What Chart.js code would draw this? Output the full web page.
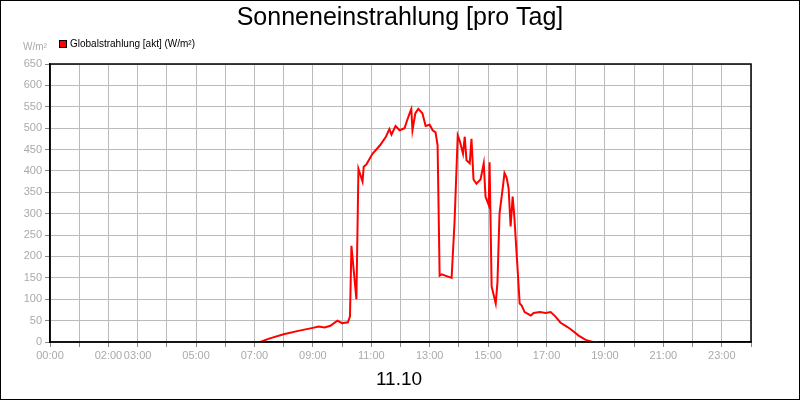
<!DOCTYPE html>
<html><head><meta charset="utf-8">
<script src="https://cdn.jsdelivr.net/npm/chart.js@4"></script>
<style>html,body{margin:0;padding:0;background:#fff}#w{width:800px;height:400px;position:relative;box-sizing:border-box;border:1px solid #000}canvas{position:absolute;left:-1px;top:-1px}</style>
</head><body><div id="w"><canvas id="c" width="800" height="400"></canvas></div>
<script>
const hours = [0,7.2,7.5,8,8.5,9,9.2,9.4,9.6,9.84,10.0,10.2,10.27,10.32,10.49,10.56,10.7,10.74,10.83,11.04,11.3,11.5,11.62,11.69,11.83,11.97,12.14,12.21,12.34,12.37,12.41,12.51,12.61,12.75,12.86,13.0,13.1,13.2,13.27,13.34,13.41,13.75,13.85,13.96,14.03,14.14,14.2,14.26,14.37,14.43,14.5,14.6,14.74,14.85,14.91,15.02,15.05,15.12,15.26,15.32,15.39,15.5,15.56,15.63,15.7,15.77,15.84,15.9,16.0,16.08,16.15,16.25,16.46,16.56,16.77,16.97,17.14,17.3,17.48,17.72,17.86,18.1,18.34,18.58,18.8,24];
const values = [0,0,8,18,26,33,36,34,38,50,44,46,60,225,100,405,375,410,415,440,460,480,498,485,505,495,500,515,540,545,495,535,545,535,505,508,495,490,460,155,158,150,280,483,470,440,480,425,418,475,380,370,380,418,340,320,420,130,90,140,300,360,395,385,360,270,340,290,180,90,85,70,62,68,70,68,70,60,45,35,28,15,5,0,0];
const xLabels = {0:'00:00',2:'02:00',3:'03:00',5:'05:00',7:'07:00',9:'09:00',11:'11:00',13:'13:00',15:'15:00',17:'17:00',19:'19:00',21:'21:00',23:'23:00'};
const seriesName = 'Globalstrahlung [akt] (W/m²)';
const titleText = 'Sonneneinstrahlung [pro Tag]';
const dateText = '11.10';
const unitText = 'W/m²';

const deco = {id:'deco', afterDraw(ch){
  const c=ch.ctx, a=ch.chartArea;
  c.save();
  c.strokeStyle='#000'; c.lineWidth=1.5;
  c.strokeRect(a.left, a.top, a.right-a.left, a.bottom-a.top);
  c.fillStyle='#000'; c.textAlign='center'; c.textBaseline='middle';
  c.font='25px Arial, "Liberation Sans"'; c.fillText(titleText, 400, 18);
  c.font='19px Arial, "Liberation Sans"'; c.fillText(dateText, 399, 380);
  c.textAlign='left'; c.font='10px Arial, "Liberation Sans"';
  c.fillStyle='#f00'; c.fillRect(59,40,8,8); c.strokeStyle='#000'; c.lineWidth=1; c.strokeRect(59.5,40.5,7,7);
  c.fillStyle='#000'; c.fillText(seriesName, 70, 44);
  c.fillStyle='#aaa'; c.fillText(unitText, 23, 47);
  c.restore();
}};

new Chart(document.getElementById('c'), {
  type:'line',
  data:{datasets:[{label:seriesName, data:hours.map((h,i)=>({x:h,y:values[i]})), borderColor:'#f00', borderWidth:2, pointRadius:0, tension:0, fill:false}]},
  options:{responsive:false, animation:false, devicePixelRatio:1,
    layout:{padding:{left:0,right:49,top:64,bottom:0}},
    plugins:{legend:{display:false}, title:{display:false}, tooltip:{enabled:false}},
    scales:{
      x:{type:'linear', min:0, max:24, afterFit(s){s.height=58;},
        ticks:{stepSize:1, autoSkip:false, maxRotation:0, color:'#aaa', font:{size:11, family:'Arial, "Liberation Sans"'}, padding:2, callback:v=>xLabels[v]||''},
        grid:{color:'#bbb', tickLength:5, tickColor:'#888'}, border:{color:'#000', width:1.5}},
      y:{min:0, max:650, afterFit(s){s.width=50;},
        ticks:{stepSize:50, color:'#aaa', font:{size:11, family:'Arial, "Liberation Sans"'}, padding:3},
        grid:{color:'#bbb', tickLength:5, tickColor:'#888'}, border:{color:'#000', width:1.5}}
    }
  },
  plugins:[deco]
});
</script></body></html>
